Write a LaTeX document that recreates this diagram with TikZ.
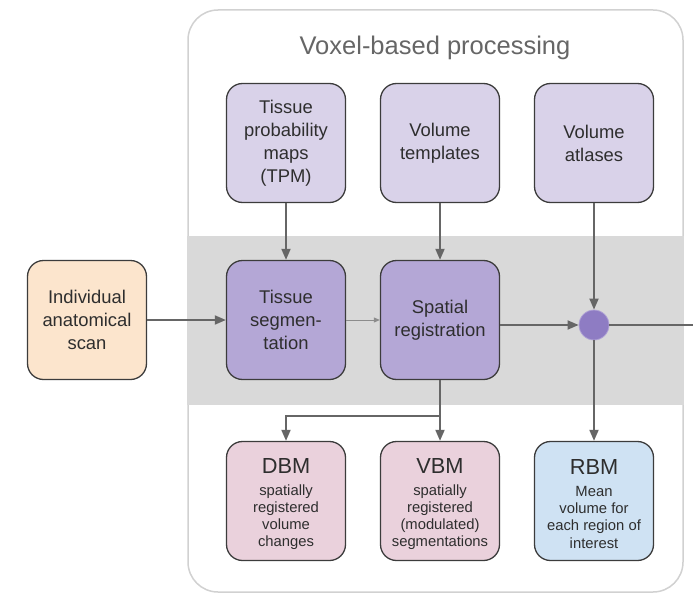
\documentclass[tikz,border=0pt]{standalone}
\usepackage{fontspec}
\setmainfont{Liberation Sans}
\usetikzlibrary{arrows.meta}
\definecolor{lav}{HTML}{D9D2E9}
\definecolor{purp}{HTML}{B4A7D6}
\definecolor{orng}{HTML}{FCE5CD}
\definecolor{pnk}{HTML}{EAD1DC}
\definecolor{lblue}{HTML}{CFE2F3}
\definecolor{dotc}{HTML}{8E7CC3}
\definecolor{bandc}{HTML}{D9D9D9}
\definecolor{edgec}{HTML}{3C3C3C}
\definecolor{arr}{HTML}{666666}
\newcommand\bigtxt{\fontsize{21.8}{21.8}\selectfont\rule{0pt}{21pt}}
\begin{document}
\begin{tikzpicture}[x=1pt,y=-1pt,
  box/.style={draw=edgec, line width=1.3pt, rounded corners=16pt,
    minimum width=119pt, minimum height=119pt, inner sep=0pt,
    align=center, text=black!82, font=\fontsize{18.4}{23}\selectfont},
  resbox/.style={box, font=\fontsize{14.8}{17.2}\selectfont},
  conn/.style={draw=arr, line width=1.8pt, -{Triangle[length=11pt,width=9pt]}},
  thinconn/.style={draw=black!45, line width=0.9pt, -{Triangle[length=6pt,width=5pt]}},
  plain/.style={draw=arr, line width=1.8pt},
]
\useasboundingbox (0,0) rectangle (693,594);
\fill[white] (0,0) rectangle (693,594);
% outer panel
\draw[draw=black!18, line width=1.5pt, rounded corners=30pt] (188,10) rectangle (683,592);
\fill[bandc] (187,236) rectangle (684,405);
\node[text=black!60, font=\fontsize{25.5}{30}\selectfont] (title) at (435,48) {Voxel-based processing};
% top row
\node[box, fill=lav] (tpm) at (286,143) {Tissue\\probability\\maps\\(TPM)};
\node[box, fill=lav] (tmpl) at (440,143) {Volume\\templates};
\node[box, fill=lav] (atl) at (594,143) {Volume\\atlases};
% middle row
\node[box, fill=orng] (scan) at (87,320) {Individual\\anatomical\\scan};
\node[box, fill=purp] (seg) at (286,320) {Tissue\\segmen-\\tation};
\node[box, fill=purp] (reg) at (440,320) {Spatial\\registration};
\node[circle, fill=dotc, draw=dotc!70!white, line width=0.8pt, minimum size=30pt, inner sep=0pt] (dot) at (594,325) {};
\coordinate (out) at (693,325);
% bottom row
\node[resbox, fill=pnk] (dbm) at (286,501) {{\bigtxt DBM}\\[4.5pt]spatially\\registered\\volume\\changes};
\node[resbox, fill=pnk] (vbm) at (440,501) {{\bigtxt VBM}\\[4.5pt]spatially\\registered\\(modulated)\\segmentations};
\node[resbox, fill=lblue] (rbm) at (594,501) {{\bigtxt RBM}\\[4.5pt]Mean\\volume for\\each region of\\interest};
\coordinate (split) at (440,416);
% connectors
\draw[conn] (tpm) -- (seg);
\draw[conn] (tmpl) -- (reg);
\draw[conn] (atl) -- (dot);
\draw[conn] (scan) -- (seg);
\draw[thinconn] (seg) -- (reg);
\draw[conn] (reg.east |- dot) -- (dot);
\draw[plain] (dot) -- (out);
\draw[conn] (dot) -- (rbm);
\draw[plain] (reg) -- (split);
\draw[conn] (split) -| (dbm);
\draw[conn] (split) -- (vbm);
\end{tikzpicture}
\end{document}
